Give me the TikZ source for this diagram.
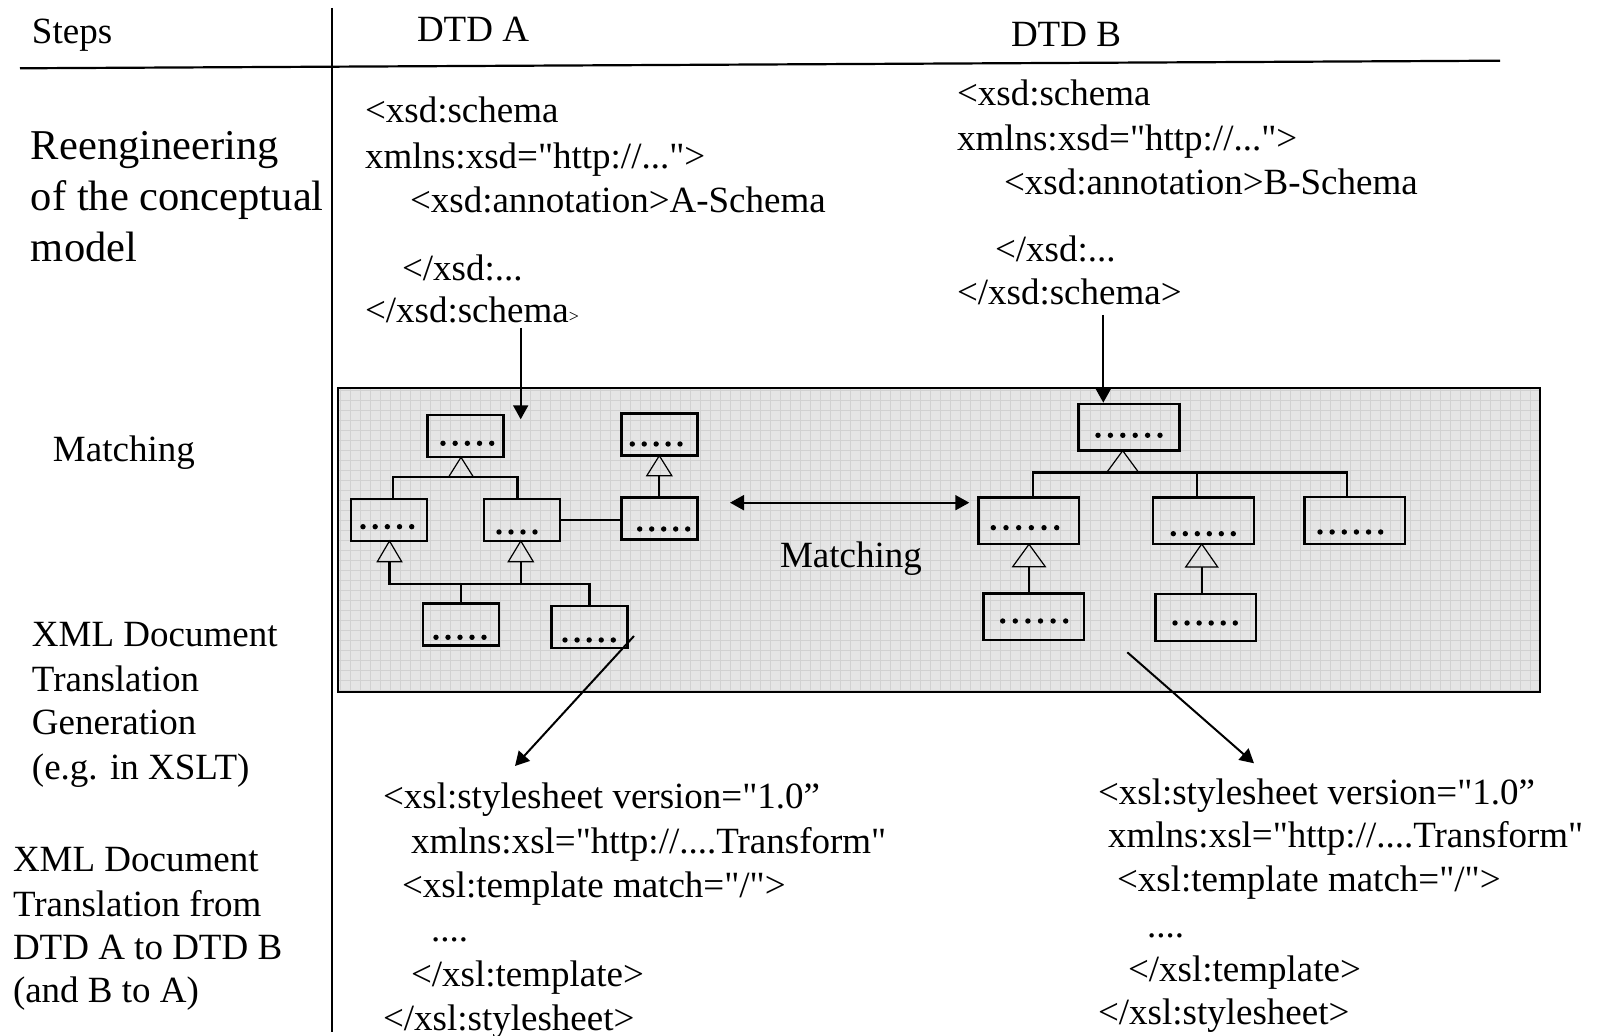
\documentclass[tikz,border=0pt]{standalone}
\usepackage{fontspec}
\setmainfont{Liberation Serif}[Ligatures=TeXOff]
\usetikzlibrary{arrows.meta,calc}

% one unit = one pixel of a 1597 x 1036 canvas, y pointing down
\tikzset{
  txt/.style={anchor=base west, inner sep=0pt, outer sep=0pt,
              font=\fontsize{18.5pt}{22pt}\selectfont},
  bigtxt/.style={txt, font=\fontsize{21.25pt}{26pt}\selectfont},
  cls/.style={draw, line width=1.3pt, inner sep=0pt,
              minimum width=38pt, minimum height=21pt},
  clsB/.style={cls, minimum width=50.4pt, minimum height=23.4pt},
  link/.style={line width=1.1pt},
  tri/.style={line width=0.6pt},
  tip/.style={-{Triangle[length=7pt,width=7.5pt]}},
  arr/.style={line width=1pt, tip},
  darr/.style={line width=1pt, {Triangle[length=7pt,width=7.5pt]}-{Triangle[length=7pt,width=7.5pt]}},
  rule/.style={line width=1.1pt},
  panelfill/.style={fill=black!10},
  panelgrid/.style={draw=black!18, line width=0.45pt},
}

% row of n dots from x1 to x2 at height y
\newcommand\dotrow[4]{%
  \foreach \k in {1,...,#4}{%
    \fill ({#1+(\k-1)*(#2-#1)/(#4-1)},#3) circle[radius=1.35pt];
  }%
}
% open inheritance triangle: base centre, half width, height
\newcommand\inhtri[3]{\draw[tri] (#1) ++(-#2,0) -- ++(#2,-#3) -- ++(#2,#3) -- cycle;}

\begin{document}
\begin{tikzpicture}[x=0.5pt, y=-0.5pt]
\useasboundingbox (0,0) rectangle (1597,1036);

% table rules
\coordinate (hL) at (20,68.3);
\coordinate (hR) at (1500,60.7);
\coordinate (vT) at (332,8);
\coordinate (vB) at (332,1032);
\draw[rule] (hL) -- (hR);
\draw[rule] (vT) -- (vB);

% headings
\node[txt] (steps) at (32,43.3) {Steps};
\node[txt] (dtdA) at (417,41.7) {DTD A};
\node[txt] (dtdB) at (1011,47) {DTD B};

% step names
\node[bigtxt] (re1) at (31,160) {Reengineering};
\node[bigtxt] (re2) at (31,211) {of the conceptual};
\node[bigtxt] (re3) at (31,262) {model};
\node[txt] (stMatch) at (53,462) {Matching};
\node[txt] (gen1) at (32,647) {XML Document};
\node[txt] (gen2) at (32,691.5) {Translation};
\node[txt] (gen3) at (32,735) {Generation};
\node[txt] (gen4) at (32,780) {(e.g. in XSLT)};
\node[txt] (tr1) at (13,872) {XML Document};
\node[txt] (tr2) at (13,917) {Translation from};
\node[txt] (tr3) at (13,960) {DTD A to DTD B};
\node[txt] (tr4) at (13,1003) {(and B to A)};

% schema A
\node[txt] (xa1) at (365,123) {<xsd:schema};
\node[txt] (xa2) at (365,169) {xmlns:xsd="http://...">};
\node[txt] (xa3) at (410,213) {<xsd:annotation>A-Schema};
\node[txt] (xa4) at (402,281) {</xsd:...};
\node[txt] (xa5) at (365,323) {</xsd:schema{\fontsize{9pt}{9pt}\selectfont >}};

% schema B
\node[txt] (xb1) at (957,106) {<xsd:schema};
\node[txt] (xb2) at (957,151) {xmlns:xsd="http://...">};
\node[txt] (xb3) at (1004,194.5) {<xsd:annotation>B-Schema};
\node[txt] (xb4) at (995,262) {</xsd:...};
\node[txt] (xb5) at (957,305) {</xsd:schema>};

% matching panel
\fill[panelfill] (338,388) rectangle (1540,692);
\draw[panelgrid, step=5pt] (338,388) grid (1540,692);
\draw[line width=1.1pt] (338,388) rectangle (1540,692);

% class boxes, DTD A
\node[cls] (A1) at (465.3,436.2) {};
\node[cls] (A2) at (389,520) {};
\node[cls] (A3) at (522,520) {};
\node[cls] (A4) at (659.7,434.5) {};
\node[cls] (A5) at (659.7,518.3) {};
\node[cls] (A6) at (460.9,624.7) {};
\node[cls] (A7) at (589.4,626.9) {};
\dotrow{443}{491.7}{443.3}{5}
\dotrow{363}{411.7}{526.7}{5}
\dotrow{499}{535}{532}{4}
\dotrow{632.3}{680}{444}{5}
\dotrow{639.7}{687.7}{529}{5}
\dotrow{436}{484}{637.3}{5}
\dotrow{565}{613.3}{640}{5}

% class boxes, DTD B
\node[clsB] (B1) at (1128.8,427.4) {};
\node[clsB] (B2) at (1028.7,520.8) {};
\node[clsB] (B3) at (1203.5,520.7) {};
\node[clsB] (B4) at (1354.7,520.5) {};
\node[clsB] (B5) at (1033.7,616.7) {};
\node[clsB] (B6) at (1205.7,617.5) {};
\dotrow{1098}{1160}{435.3}{6}
\dotrow{993.3}{1056.7}{527.7}{6}
\dotrow{1173.3}{1233.3}{533.7}{6}
\dotrow{1320}{1380.7}{532}{6}
\dotrow{1002.7}{1065.7}{621}{6}
\dotrow{1175}{1235.3}{623}{6}

% inheritance links, DTD A
\coordinate (tA1) at (461,476.7);
\coordinate (tA4) at (659.3,475.7);
\coordinate (tA2) at (389.5,561.7);
\coordinate (tA3) at (520.8,561.7);
\coordinate (busA) at (0,584);
\draw[link] ([xshift=1.8pt]A2.north) |- (tA1) -| ([xshift=-2.3pt]A3.north);
\draw[link] (tA4 |- A5.north) -- (tA4);
\draw[link] (A3.east) -- (A3.east -| A5.west);
\draw[link] (tA2) -- (tA2 |- busA) -| (A7.north);
\draw[link] (tA3) -- (tA3 |- busA);
\draw[link] (A6.north) -- (A6.north |- busA);
\inhtri{tA1}{12.2}{19.4}
\inhtri{tA4}{12.5}{20}
\inhtri{tA2}{12.2}{20.7}
\inhtri{tA3}{12.5}{20.7}

% inheritance links, DTD B
\coordinate (tB1) at (1122.7,472.5);
\coordinate (tB2) at (1029,566.7);
\coordinate (tB3) at (1201.7,567);
\coordinate (b3top) at ([xshift=-3.1pt]B3.north);
\draw[link] ([xshift=2.3pt]B2.north) |- (tB1) -| ([xshift=-4pt]B4.north);
\draw[link] (b3top) -- (b3top |- tB1);
\draw[link] (tB2) -- (tB2 |- B5.north);
\draw[link] (tB3) -- (tB3 |- B6.north);
\inhtri{tB1}{16}{21.8}
\inhtri{tB2}{16.3}{22.4}
\inhtri{tB3}{16}{23}

% matching
\coordinate (mL) at (730,502.7);
\coordinate (mR) at (969.3,502.7);
\draw[darr] (mL) -- (mR);
\node[txt] (pm) at (780,568) {Matching};

% schema to model arrows
\coordinate (srcA) at (520.7,328);
\coordinate (dstA) at (520.7,419.3);
\draw[arr] (srcA) -- (dstA);
\coordinate (srcB) at (1103.3,315);
\draw[arr] (srcB) -- (srcB |- B1.north);

% model to stylesheet arrows
\coordinate (dA0) at (634,636);
\coordinate (dA1) at (515,766);
\draw[arr] (dA0) -- (dA1);
\coordinate (dB0) at (1127.3,652.3);
\coordinate (dB1) at (1254,763.3);
\draw[arr] (dB0) -- (dB1);

% stylesheet A
\node[txt] (ya1) at (383,809) {<xsl:stylesheet version="1.0”};
\node[txt] (ya2) at (411,853.5) {xmlns:xsl="http://....Transform"};
\node[txt] (ya3) at (402,898) {<xsl:template match="/">};
\node[txt] (ya4) at (431,942) {....};
\node[txt] (ya5) at (411,987) {</xsl:template>};
\node[txt] (ya6) at (383,1031) {</xsl:stylesheet>};

% stylesheet B
\node[txt] (yb1) at (1098,805) {<xsl:stylesheet version="1.0”};
\node[txt] (yb2) at (1108,848) {xmlns:xsl="http://....Transform"};
\node[txt] (yb3) at (1117,892) {<xsl:template match="/">};
\node[txt] (yb4) at (1147,938) {....};
\node[txt] (yb5) at (1128,982) {</xsl:template>};
\node[txt] (yb6) at (1098,1025) {</xsl:stylesheet>};
\end{tikzpicture}
\end{document}
